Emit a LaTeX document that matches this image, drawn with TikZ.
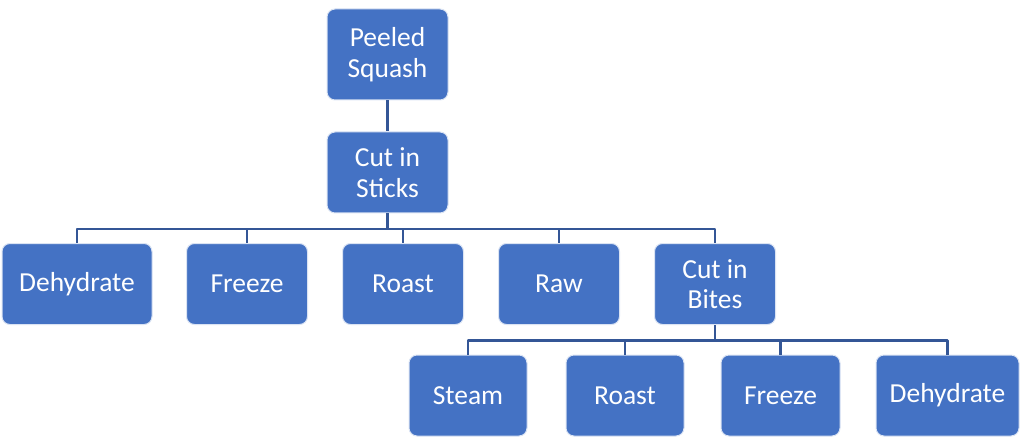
\documentclass[tikz,border=0pt]{standalone}
\usepackage{fontspec}
\setmainfont{Carlito}
\definecolor{boxblue}{RGB}{68,114,196}
\definecolor{linkblue}{RGB}{52,86,150}

\begin{document}
\begin{tikzpicture}[x=1pt,y=-1pt,line width=1pt,line cap=round,line join=round,
  stepbox/.style={draw=boxblue!20,fill=boxblue,rounded corners=8pt,text=white,
    align=center,inner sep=0pt,minimum width=121pt,minimum height=81pt,
    font=\fontsize{27.5}{30.5}\selectfont},
  link/.style={draw=linkblue,line width=2.3pt,line cap=butt}]
\useasboundingbox (0,0) rectangle (1024,446);
% top of the tree
\node[stepbox,minimum height=91pt] (peeled) at (387.5,54.5) {Peeled\\Squash};
\node[stepbox] (sticks) at (387.5,172.5) {Cut in\\Sticks};
% second row
\node[stepbox,minimum width=150pt] (dehyd1) at (77,284) {Dehydrate};
\node[stepbox] (freeze1) at (247,284) {Freeze};
\node[stepbox] (roast1) at (403,284) {Roast};
\node[stepbox] (raw) at (559,284) {Raw};
\node[stepbox] (bites) at (715,284) {Cut in\\Bites};
% third row
\node[stepbox,minimum width=118pt] (steam) at (468,395.5) {Steam};
\node[stepbox,minimum width=118pt] (roast2) at (625,395.5) {Roast};
\node[stepbox,minimum width=119pt] (freeze2) at (780.5,395.5) {Freeze};
\node[stepbox,minimum width=143pt] (dehyd2) at (947.5,395.5) {Dehydrate};
% connectors
\draw[link] (peeled) -- (sticks);
\foreach \c in {dehyd1,freeze1,roast1,raw,bites}
  \draw[link] (sticks.south) -- ++(0,15.5) -| (\c.north);
\foreach \c in {steam,roast2,freeze2,dehyd2}
  \draw[link] (bites.south) -- ++(0,15.5) -| (\c.north);
\end{tikzpicture}
\end{document}
